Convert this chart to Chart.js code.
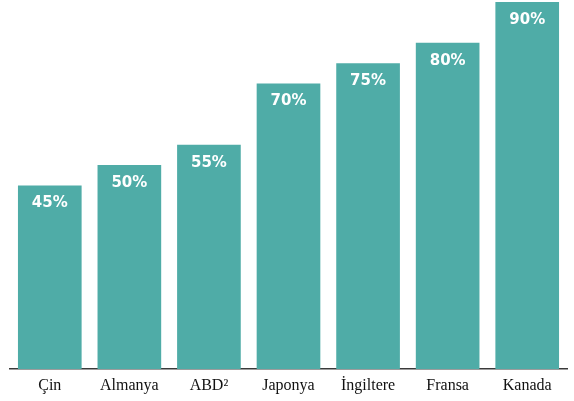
<!DOCTYPE html>
<html>
<head>
<meta charset="utf-8">
<script src="https://cdn.jsdelivr.net/npm/chart.js@4.4.0/dist/chart.umd.min.js"></script>
<style>
  html, body { margin: 0; padding: 0; background: #fff; }
  #wrap { width: 574px; height: 401px; }
</style>
</head>
<body>
<div id="wrap"><canvas id="shareChart"></canvas></div>
<script>
const countries = ['Çin', 'Almanya', 'ABD²', 'Japonya', 'İngiltere', 'Fransa', 'Kanada'];
const shares = [45, 50, 55, 70, 75, 80, 90];

// white percentage label near the top of each bar
const barLabels = {
    id: 'barLabels',
    afterDatasetsDraw(chart) {
        const c = chart.ctx;
        const bars = chart.getDatasetMeta(0).data;
        c.save();
        c.fillStyle = '#ffffff';
        c.font = 'bold 15px "DejaVu Sans", sans-serif';
        c.textAlign = 'center';
        c.textBaseline = 'middle';
        bars.forEach((bar, i) => {
            c.fillText(shares[i] + '%', bar.x, bar.y + 18);
        });
        c.restore();
    }
};

const ctx = document.getElementById('shareChart').getContext('2d');
const shareChart = new Chart(ctx, {
    type: 'bar',
    data: {
        labels: countries,
        datasets: [{
            data: shares,
            backgroundColor: '#4faca7',
            borderWidth: 0,
            barPercentage: 0.8,
            categoryPercentage: 1.0
        }]
    },
    options: {
        responsive: true,
        maintainAspectRatio: false,
        animation: false,
        layout: { padding: { left: 10, right: 7, top: 2, bottom: 0 } },
        plugins: {
            legend: { display: false },
            tooltip: { enabled: false }
        },
        scales: {
            x: {
                grid: { display: false, drawTicks: false },
                border: { display: true, color: '#3a3a3a', width: 1.5 },
                ticks: {
                    color: '#111',
                    padding: 7,
                    font: { family: '"Liberation Serif", "Times New Roman", serif', size: 16 }
                },
                afterFit(scale) { scale.height = 32; }
            },
            y: {
                display: false,
                min: 0,
                max: 90
            }
        }
    },
    plugins: [barLabels]
});
</script>
</body>
</html>
